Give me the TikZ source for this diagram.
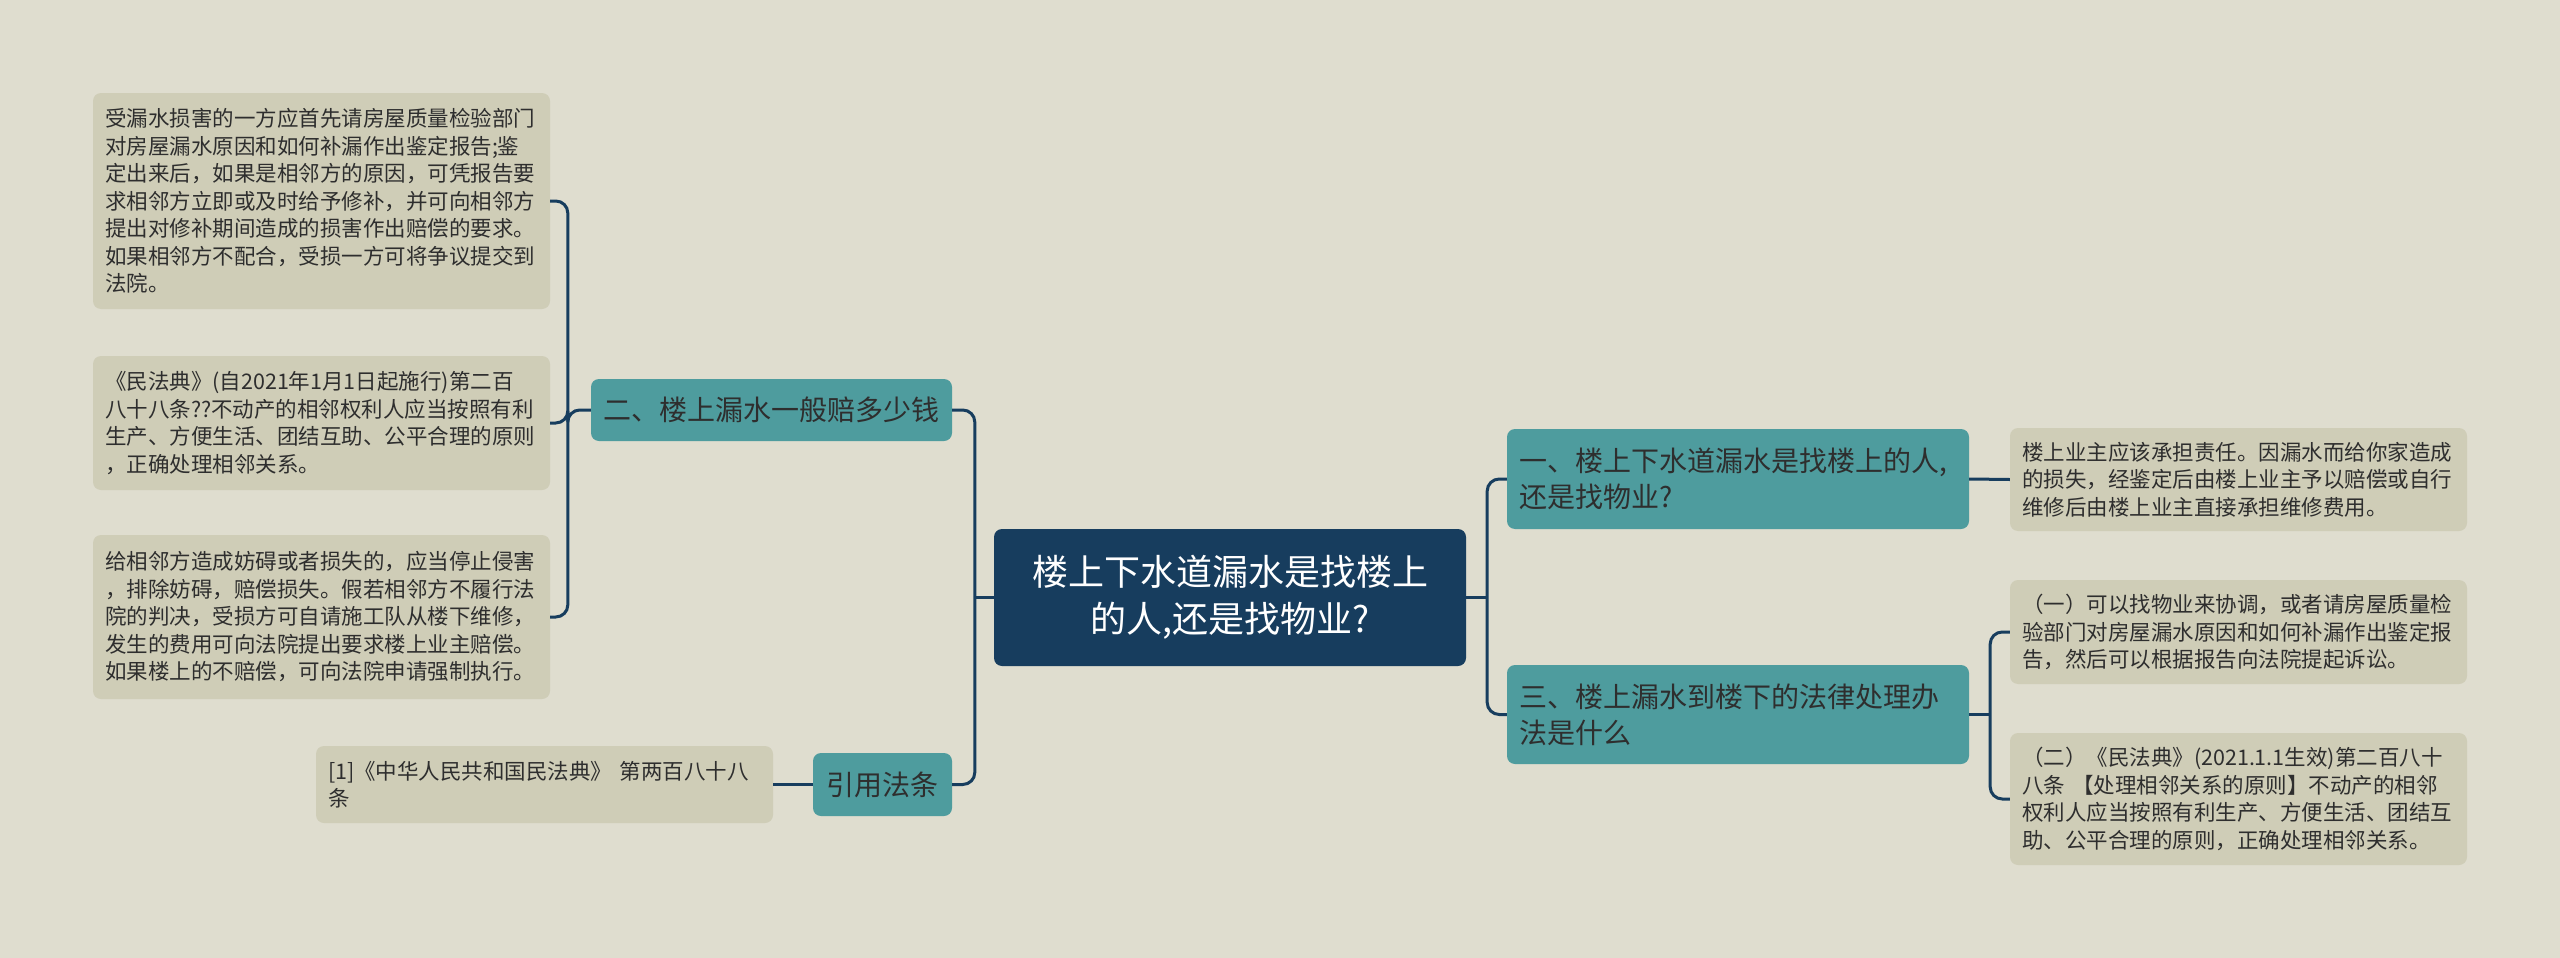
\documentclass[tikz,border=0pt]{standalone}
\usepackage{fontspec}
\newfontfamily\cjk{Noto Sans CJK SC}
\definecolor{paper}{HTML}{DFDDCF}
\definecolor{leafbg}{HTML}{CFCDB7}
\definecolor{teal}{HTML}{4E9C9E}
\definecolor{navy}{HTML}{173D5E}
\definecolor{ink}{HTML}{2E2E2E}

\begin{document}
\begin{tikzpicture}[x=1pt,y=-1pt,
  leaf/.style={fill=leafbg, rounded corners=8, inner xsep=12, inner ysep=0, text width=433, align=left, text=ink, font=\cjk\fontsize{21.5}{27.5}\selectfont},
  topic/.style={fill=teal, rounded corners=8, inner xsep=12, inner ysep=0, text width=#1, align=left, text=ink, font=\cjk\fontsize{28}{36}\selectfont},
  link/.style={draw=navy, line width=3, rounded corners=12}]
\useasboundingbox (0,0) rectangle (2560,958);
\fill[paper] (0,0) rectangle (2560,958);

\node[fill=navy, rounded corners=8, inner xsep=16, inner ysep=0, text width=440, minimum height=137, align=center, text=white, font=\cjk\fontsize{36}{47}\selectfont] (centre) at (1230,597.5) {楼上下水道漏水是找楼上\\的人,还是找物业?};

\node[topic=337, minimum height=62] (ban) at (771.5,410) {二、楼上漏水一般赔多少钱};
\node[topic=115, minimum height=63, align=center] (cite) at (882.5,784.5) {引用法条};
\node[topic=438, minimum height=100] (one) at (1738,479) {一、楼上下水道漏水是找楼上的人,\\还是找物业?};
\node[topic=438, minimum height=99] (three) at (1738,714.5) {三、楼上漏水到楼下的法律处理办\\法是什么};

\node[leaf, minimum height=216] (l1) at (321.5,201) {受漏水损害的一方应首先请房屋质量检验部门\\对房屋漏水原因和如何补漏作出鉴定报告;鉴\\定出来后，如果是相邻方的原因，可凭报告要\\求相邻方立即或及时给予修补，并可向相邻方\\提出对修补期间造成的损害作出赔偿的要求。\\如果相邻方不配合，受损一方可将争议提交到\\法院。};
\node[leaf, minimum height=134] (l2) at (321.5,423) {《民法典》(自2021年1月1日起施行)第二百\\八十八条??不动产的相邻权利人应当按照有利\\生产、方便生活、团结互助、公平合理的原则\\，正确处理相邻关系。};
\node[leaf, minimum height=164] (l3) at (321.5,617) {给相邻方造成妨碍或者损失的，应当停止侵害\\，排除妨碍，赔偿损失。假若相邻方不履行法\\院的判决，受损方可自请施工队从楼下维修，\\发生的费用可向法院提出要求楼上业主赔偿。\\如果楼上的不赔偿，可向法院申请强制执行。};
\node[leaf, minimum height=77] (clf) at (544.5,784.5) {[1]《中华人民共和国民法典》 第两百八十八\\条};
\node[leaf, minimum height=103] (r1) at (2238.5,479.5) {楼上业主应该承担责任。因漏水而给你家造成\\的损失，经鉴定后由楼上业主予以赔偿或自行\\维修后由楼上业主直接承担维修费用。};
\node[leaf, minimum height=104] (r2) at (2238.5,632) {（一）可以找物业来协调，或者请房屋质量检\\验部门对房屋漏水原因和如何补漏作出鉴定报\\告，然后可以根据报告向法院提起诉讼。};
\node[leaf, minimum height=132] (r3) at (2238.5,799) {（二）《民法典》(2021.1.1生效)第二百八十\\八条 【处理相邻关系的原则】不动产的相邻\\权利人应当按照有利生产、方便生活、团结互\\助、公平合理的原则，正确处理相邻关系。};

\draw[link] (ban.east) -| ([xshift=-19]centre.west) |- (cite.east);
\draw[link] (centre.west) -- ++(-19,0);
\draw[link] (one.west) -| ([xshift=21]centre.east) |- (three.west);
\draw[link] (centre.east) -- ++(21,0);
\draw[link] (l1.east) -| ([xshift=-23]ban.west) |- (l3.east);
\draw[link] (ban.west) -- ++(-23,0) |- (l2.east);
\draw[link] (cite.west) -- (clf.east);
\draw[link] (one.east) -- (r1.west);
\draw[link] (r2.west) -| ([xshift=21]three.east) |- (r3.west);
\draw[link] (three.east) -- ++(21,0);
\end{tikzpicture}
\end{document}
